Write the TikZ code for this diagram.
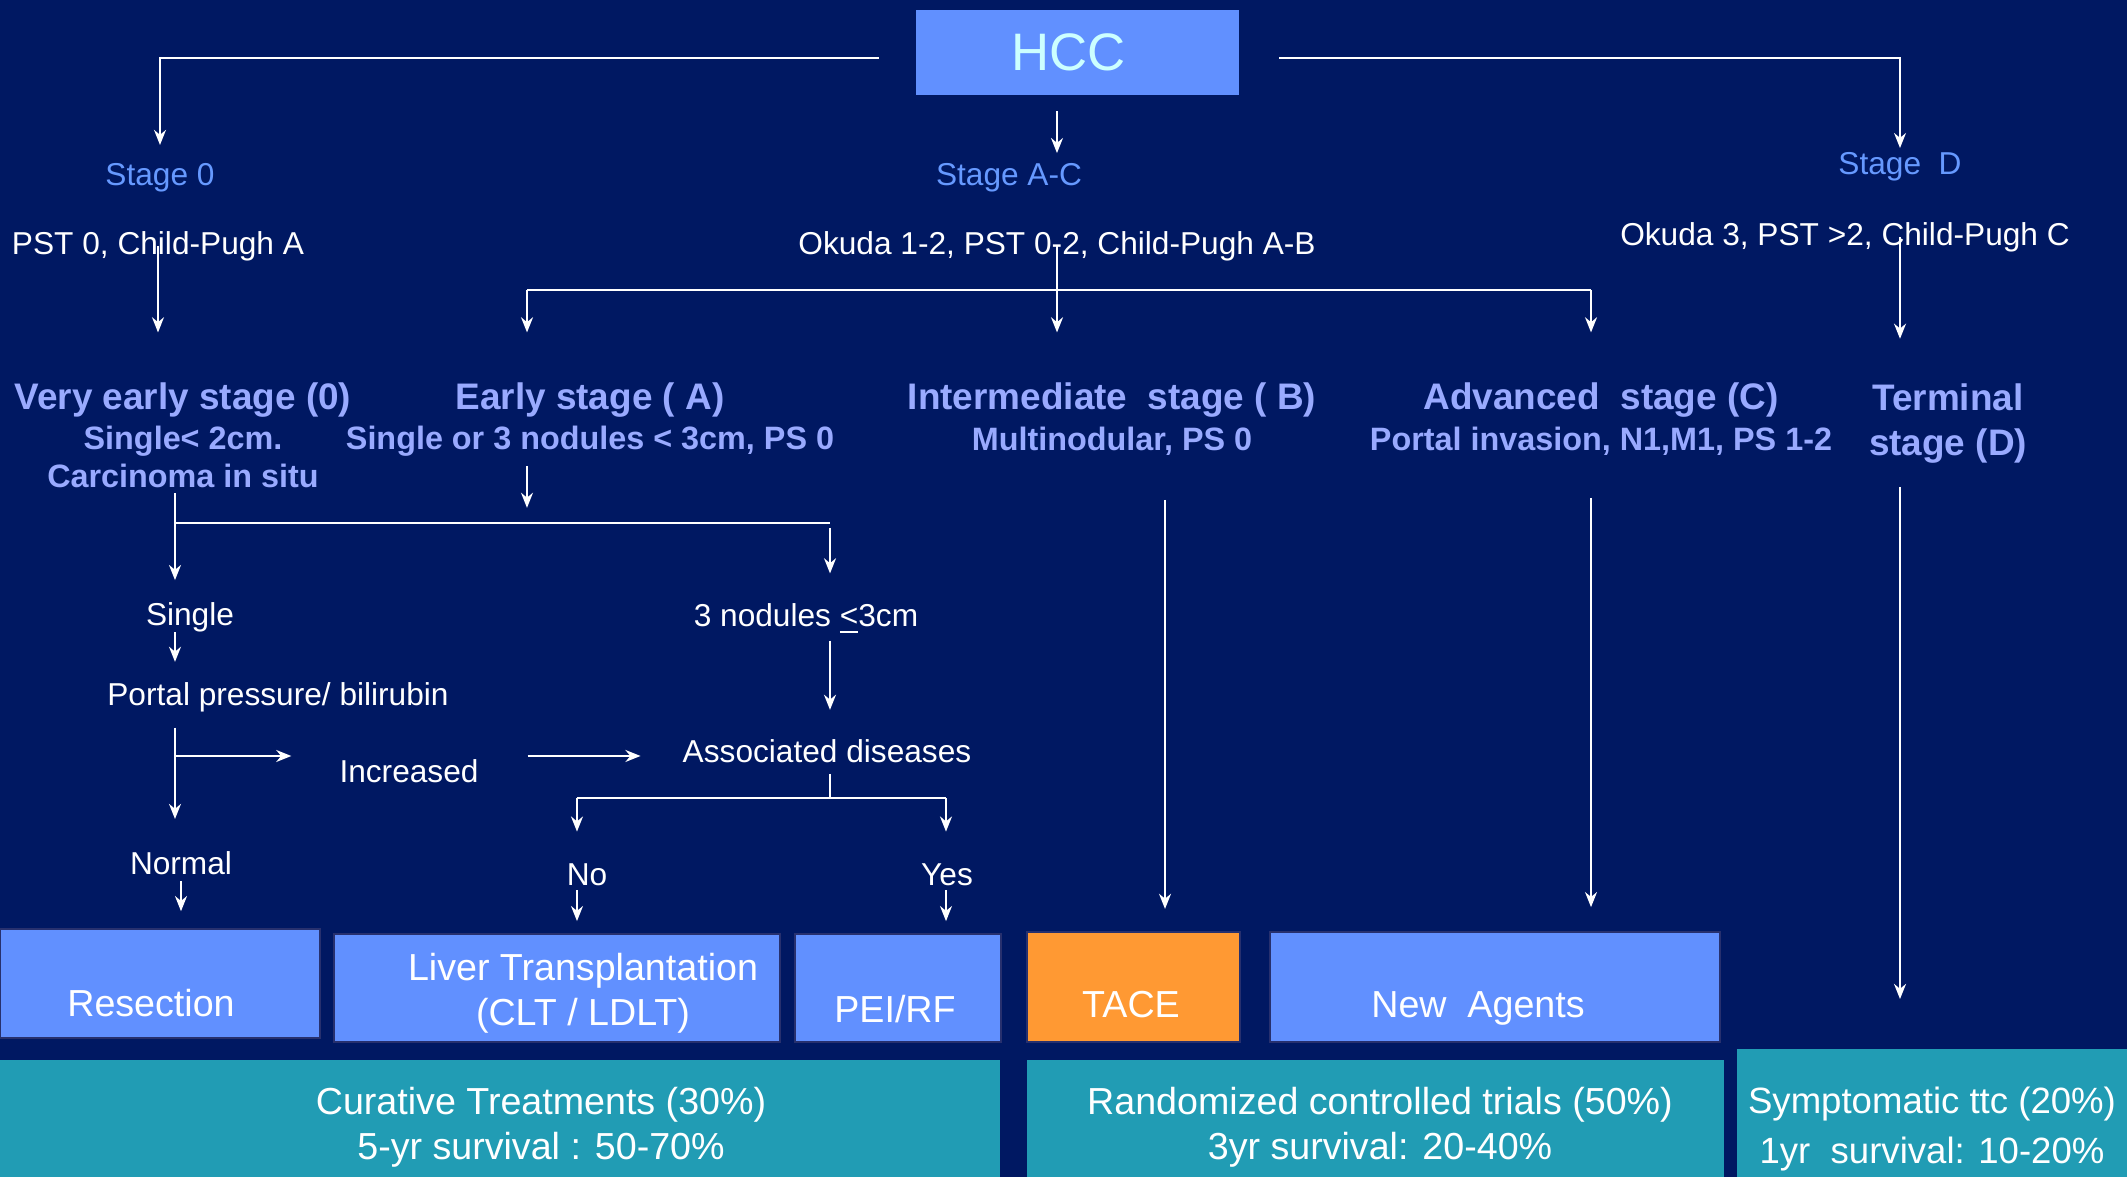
\documentclass[tikz,border=0pt]{standalone}
\usepackage{fontspec}
\setmainfont{Liberation Sans}
\usetikzlibrary{arrows.meta}
\definecolor{navy}{HTML}{001862}
\definecolor{boxblue}{HTML}{6190FF}
\definecolor{hcctext}{HTML}{CCFFFF}
\definecolor{stageblue}{HTML}{6699FF}
\definecolor{headblue}{HTML}{99AAFF}
\definecolor{tacecol}{HTML}{FF9933}
\definecolor{tealcol}{HTML}{219CB4}
\definecolor{edgecol}{HTML}{27306E}

\begin{document}
\begin{tikzpicture}[x=0.01cm,y=-0.01cm]
\tikzset{hccbox/.style={fill=boxblue,text=hcctext,inner sep=0,minimum width=3.23cm,minimum height=0.855cm,font=\fontsize{15}{18}\selectfont},
         stg/.style={text=stageblue,inner sep=0,font=\fontsize{9}{11}\selectfont},
         txt/.style={text=white,inner sep=0,font=\fontsize{9}{11}\selectfont},
         head/.style={text=headblue,inner sep=0,font=\bfseries\fontsize{10.5}{12.5}\selectfont},
         sub/.style={text=headblue,inner sep=0,font=\bfseries\fontsize{9.2}{11}\selectfont},
         tbox/.style={fill=boxblue,draw=edgecol,line width=0.5pt,inner sep=0},
         ybox/.style={fill=tealcol,inner sep=0},
         btxt/.style={text=white,inner sep=0,align=center,font=\fontsize{10.7}{12.8}\selectfont},
         ln/.style={draw=white,line width=0.6pt},
         arr/.style={ln,-{Stealth[length=4.3pt,width=3.4pt,inset=1.4pt]}}}
\useasboundingbox (0,0) rectangle (2127,1177);
\fill[navy] (0,0) rectangle (2127,1177);
% top
\node[hccbox] (hcc) at (1077.5,52.5) {HCC\kern5pt};
\node[stg] (s0) at (160,178) {Stage 0};
\node[stg] (sac) at (1009,178) {Stage A-C};
\node[stg] (sd) at (1900,167) {Stage\ \ D};
\node[txt] (c0) at (158,246) {PST 0, Child-Pugh A};
\node[txt] (cac) at (1057,246) {Okuda 1-2, PST 0-2, Child-Pugh A-B};
\node[txt] (cd) at (1845,237) {Okuda 3, PST >2, Child-Pugh C};
% stages
\node[head] (h0) at (183,400) {Very early stage (0)};
\node[sub] (h0a) at (183,441) {Single< 2cm.};
\node[sub] (h0b) at (183,476) {Carcinoma in situ};
\node[head] (hA) at (590,400) {Early stage ( A)};
\node[sub] (hAa) at (590,441) {Single or 3 nodules < 3cm, PS 0};
\node[head] (hB) at (1112,400) {Intermediate\ \ stage ( B)};
\node[sub] (hBa) at (1112,441) {Multinodular, PS 0};
\node[head] (hC) at (1601,400) {Advanced\ \ stage (C)};
\node[sub] (hCa) at (1601,441) {Portal invasion, N1,M1, PS 1-2};
\node[head] (hD) at (1948,397) {Terminal};
\node[head] (hDa) at (1948,446) {stage (D)};
% decisions
\node[txt] (single) at (190,617) {Single};
\node[txt] (ppb) at (278,697) {Portal pressure/ bilirubin};
\node[txt] (incr) at (409,771) {Increased};
\node[txt] (normal) at (181,863) {Normal};
\node[txt] (three) at (806,619) {3 nodules \underline{<}3cm};
\node[txt] (assoc) at (827,751) {Associated diseases};
\node[txt] (no) at (587,875) {No};
\node[txt] (yes) at (947,875) {Yes};
% treatments
\node[tbox,minimum width=3.2cm,minimum height=1.09cm] (res) at (160,983.5) {};
\node[btxt] (restx) at (151,1003) {Resection};
\node[tbox,minimum width=4.46cm,minimum height=1.08cm] (olt) at (557,988) {};
\node[btxt] (olttx) at (583,993) {Liver Transplantation\\(CLT / LDLT)};
\node[tbox,minimum width=2.06cm,minimum height=1.08cm] (pei) at (898,988) {};
\node[btxt] (peitx) at (895,1009) {PEI/RF};
\node[tbox,fill=tacecol,minimum width=2.13cm,minimum height=1.1cm] (tace) at (1133.5,987) {};
\node[btxt] (tacetx) at (1131,1005) {TACE};
\node[tbox,minimum width=4.5cm,minimum height=1.1cm] (newag) at (1495,987) {};
\node[btxt] (newagtx) at (1478,1008) {New\ \ Agents};
\node[ybox,minimum width=10cm,minimum height=1.17cm] (cur) at (500,1118.5) {};
\node[btxt] (curtx) at (541,1127) {Curative Treatments (30\%)\\5-yr survival : 50-70\%};
\node[ybox,minimum width=6.97cm,minimum height=1.17cm] (rct) at (1375.5,1118.5) {};
\node[btxt] (rcttx) at (1380,1127) {Randomized controlled trials (50\%)\\3yr survival: 20-40\%};
\node[ybox,minimum width=3.9cm,minimum height=1.28cm] (sym) at (1932,1113) {};
\node[btxt,font=\fontsize{10.4}{14}\selectfont] (symtx) at (1932,1129) {Symptomatic ttc (20\%)\\1yr\ \ survival: 10-20\%};
% junctions
\coordinate (jl) at (879,58);
\coordinate (jr) at (1279,58);
\coordinate (ka) at (527,290);
\coordinate (kc) at (1591,290);
\coordinate (kb) at (527,523);
\coordinate (jb) at (175,523);
\coordinate (jc) at (830,523);
\coordinate (jp) at (175,756);
\coordinate (jn) at (577,798);
\coordinate (jy) at (946,798);
\coordinate (kt) at (1165,500);
% connectors
\draw[arr,shorten >=5.1pt] (jl) -| (s0.north);
\draw[arr,shorten >=1.1pt] (jr) -| (sd.north);
\draw[arr,shorten <=4.3pt,shorten >=2.8pt] (cac |- hcc.south) -- (cac |- sac.north);
\draw[arr,shorten >=14.1pt] (c0.center) -- (c0 |- h0.north);
\draw[ln] (ka) -- (kc);
\draw[arr,shorten >=14.1pt] (ka) -- (ka |- hA.north);
\draw[arr,shorten >=14.1pt] (cac.center) -- (cac |- hB.north);
\draw[arr,shorten >=14.1pt] (kc) -- (kc |- hC.north);
\draw[arr,shorten >=12.5pt] (cd.center -| sd) -- (sd |- hD.north);
\draw[arr,shorten <=2.6pt,shorten >=4.3pt] (ka |- hAa.south) -- (kb);
\draw[ln] (jb) -- (jc);
\draw[arr,shorten <=1.4pt,shorten >=6.1pt] (jb |- h0b.south) -- (jb |- single.north);
\draw[arr,shorten <=1.4pt,shorten >=8.5pt] (jc) -- (jc |- three.north);
\draw[arr,shorten >=5.6pt] (jb |- single.south) -- (jb |- ppb.north);
\draw[arr,shorten <=4.3pt,shorten >=9pt] (jb |- ppb.south) -- (jb |- normal.north);
\draw[arr,shorten >=13.5pt] (jp) -- (jp -| incr.west);
\draw[arr,shorten <=13.8pt,shorten >=11.8pt] (jp -| incr.east) -- (jp -| assoc.west);
\draw[arr,shorten <=1.7pt,shorten >=8.2pt] (jc |- three.south) -- (jc |- assoc.north);
\draw[ln,shorten <=3pt] (jc |- assoc.south) -- (jc |- jn);
\draw[ln] (jn) -- (jy);
\draw[arr,shorten >=9pt] (jn) -- (jn |- no.north);
\draw[arr,shorten >=9pt] (jy) -- (jy |- yes.north);
\draw[arr,shorten <=1.6pt,shorten >=4.8pt] (normal.south) -- (normal.south |- res.north);
\draw[arr,shorten <=1pt,shorten >=3.4pt] (jn |- no.south) -- (jn |- olt.north);
\draw[arr,shorten <=1pt,shorten >=3.4pt] (jy |- yes.south) -- (jy |- pei.north);
\draw[arr,shorten >=6.3pt] (kt) -- (kt |- tace.north);
\draw[arr,shorten <=11.9pt,shorten >=6.8pt] (kc |- hCa.south) -- (kc |- newag.north);
\draw[arr,shorten <=6.5pt,shorten >=14pt] (sd |- hDa.south) -- (sd |- sym.north);
\end{tikzpicture}
\end{document}
